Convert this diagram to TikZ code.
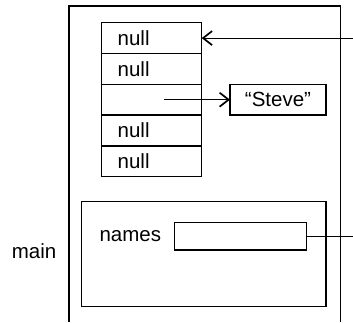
\documentclass[tikz,border=0pt]{standalone}
\usepackage{fontspec}
\setmainfont{Liberation Sans}
\usetikzlibrary{arrows.meta,positioning}
\tikzset{
  cell/.style={draw, line width=1.4pt, outer sep=0pt, minimum height=30.8pt,
    text width=68pt, inner xsep=16pt, inner ysep=0pt, align=left},
  strbox/.style={draw, line width=1.4pt, outer sep=0pt, minimum width=96pt,
    minimum height=30.8pt, inner sep=0pt},
  ref/.style={line width=1pt, -{Straight Barb[length=9pt,width=14pt,line width=1.7pt]}}}

\begin{document}
\begin{tikzpicture}[x=1pt, y=-1pt, line width=1.4pt, font=\fontsize{20.5}{24}\selectfont]
  \useasboundingbox (0,0) rectangle (353,322);
  % stack frame of main
  \draw (69,322) -- (69,6) -- (340.5,6) -- (340.5,322);
  \node (main) at (34,251) {main};
  % the array
  \node[cell] (c1) at (151.7,38.1) {null};
  \node[cell, below=0pt of c1] (c2) {null};
  \node[cell, below=0pt of c2] (c3) {};
  \node[cell, below=0pt of c3] (c4) {null};
  \node[cell, below=0pt of c4] (c5) {null};
  \node[strbox, right=28.3pt of c3] (steve) {“Steve”};
  \coordinate[right=12.3pt of c3.center] (p);
  \draw[ref] (p) -- (steve.west);
  \coordinate (in) at (353,38.1);
  \draw[ref] (in) -- (c1.east);
  % local variables
  \node[draw, outer sep=0pt, inner sep=0pt, minimum width=244.3pt,
    minimum height=105pt] (locals) at (203.85,254.2) {};
  \node[draw, outer sep=0pt, inner sep=0pt, minimum width=132.4pt,
    minimum height=27.3pt] (field) at (240.5,236.4) {};
  \node[left=12.5pt of field, inner sep=0pt] (names) {names};
  \coordinate (out) at (353,236.4);
  \draw[line width=1pt] (field.east) -- (out);
\end{tikzpicture}
\end{document}
